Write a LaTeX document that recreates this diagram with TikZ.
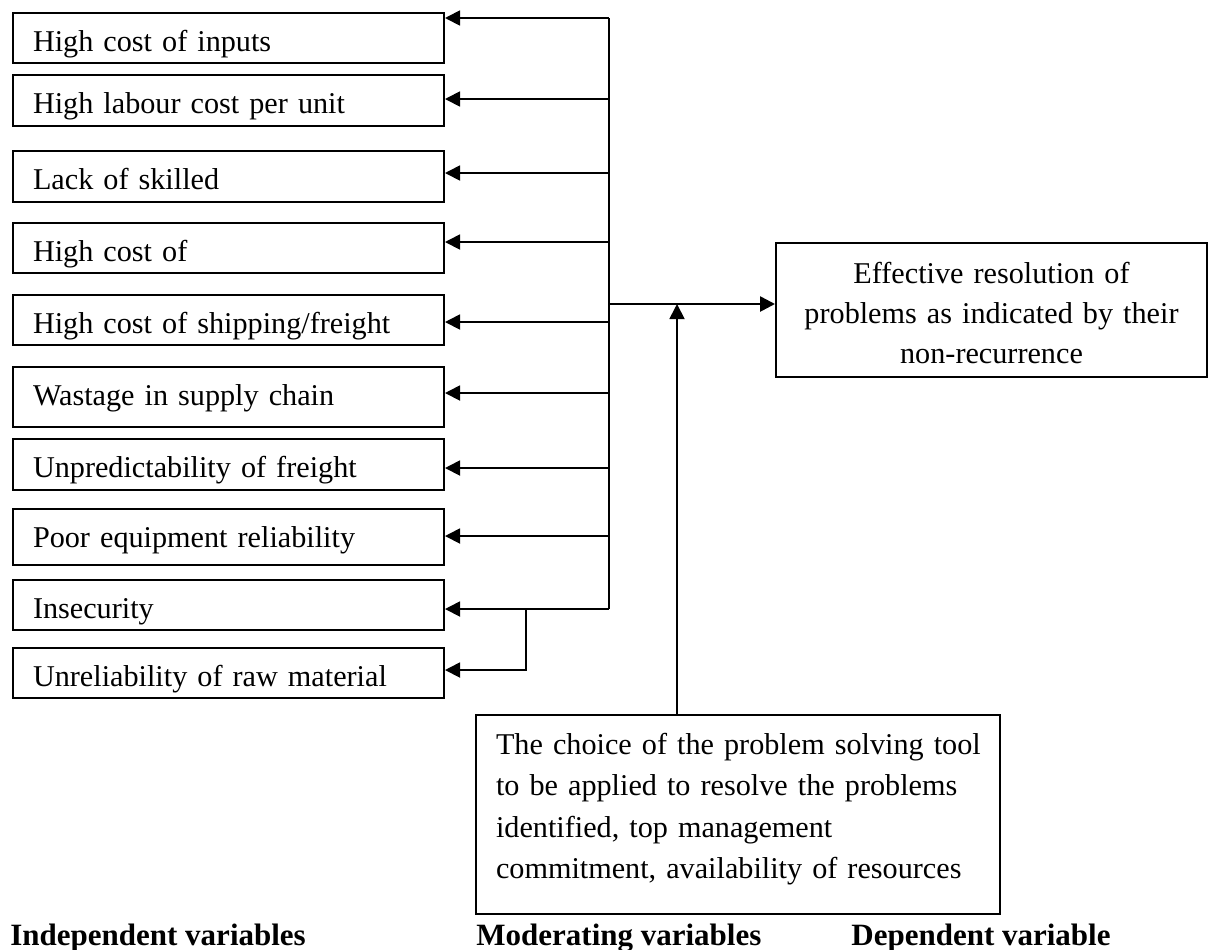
\documentclass[tikz,border=0pt]{standalone}
\usepackage{fontspec}
\setmainfont{Liberation Serif}
\usetikzlibrary{arrows.meta}
\begin{document}
\begin{tikzpicture}[x=0.5pt,y=-0.5pt,
  txt/.style={font=\fontsize{15.1}{20}\selectfont},
  ibox/.style={txt, draw, line width=1pt, anchor=north west, inner xsep=10pt, inner ysep=0pt,
    text width=195.5pt, align=left, text height=19pt},
  arr/.style={line width=0.9pt, -{Triangle[length=7.5pt,width=7.5pt]}},
  spine/.style={line width=1.1pt},
  lbl/.style={font=\fontsize{15.5}{20}\selectfont\bfseries, anchor=base west, inner sep=0pt}]
\useasboundingbox (0,0) rectangle (1213,949);
% independent variable boxes
\node[ibox, text depth=6pt]   (b1)  at (12,12)  {High cost of inputs};
\node[ibox, text depth=6.5pt] (b2)  at (12,74)  {High labour cost per unit};
\node[ibox, text depth=6.5pt] (b3)  at (12,150) {Lack of skilled};
\node[ibox, text depth=6pt]   (b4)  at (12,222) {High cost of};
\node[ibox, text depth=6pt]   (b5)  at (12,294) {High cost of shipping/freight};
\node[ibox, text depth=11pt]  (b6)  at (12,366) {Wastage in supply chain};
\node[ibox, text depth=6.5pt] (b7)  at (12,438) {Unpredictability of freight};
\node[ibox, text depth=9pt]   (b8)  at (12,508) {Poor equipment reliability};
\node[ibox, text depth=6pt]   (b9)  at (12,579) {Insecurity};
\node[ibox, text depth=6pt]   (b10) at (12,647) {Unreliability of raw material};
% dependent variable
\node[txt, draw, line width=1pt, anchor=north west, inner xsep=5pt, inner ysep=0pt,
  text width=205.5pt, align=center, text height=20pt, text depth=47pt] (dep) at (775,242)
  {Effective resolution of\\ problems as indicated by their\\ non-recurrence};
% moderating variables
\node[draw, line width=1pt, anchor=north west, inner xsep=10pt, inner ysep=0pt,
  text width=242pt, align=left, text height=19.5pt, text depth=80pt,
  font=\fontsize{15.1}{20.75}\selectfont] (mod) at (475,714)
  {\mbox{The choice of the problem solving tool}\\ \mbox{to be applied to resolve the problems}\\
   \mbox{identified, top management}\\ \mbox{commitment, availability of resources}};
% spine coordinates
\coordinate (s1) at (609,18);
\coordinate (s2) at (609,99);
\coordinate (s3) at (609,173);
\coordinate (s4) at (609,242);
\coordinate (s5) at (609,322);
\coordinate (s6) at (609,393);
\coordinate (s7) at (609,468);
\coordinate (s8) at (609,536);
\coordinate (s9) at (609,609);
\coordinate (br) at (526,609);
\coordinate (br2) at (526,670);
\coordinate (main) at (609,304);
\coordinate (mtip) at (677,304);
\draw[spine] (s1) -- (s9);
\draw[arr] (s1) -- (s1 -| b1.east);
\draw[arr] (s2) -- (s2 -| b2.east);
\draw[arr] (s3) -- (s3 -| b3.east);
\draw[arr] (s4) -- (s4 -| b4.east);
\draw[arr] (s5) -- (s5 -| b5.east);
\draw[arr] (s6) -- (s6 -| b6.east);
\draw[arr] (s7) -- (s7 -| b7.east);
\draw[arr] (s8) -- (s8 -| b8.east);
\draw[arr] (s9) -- (s9 -| b9.east);
\draw[arr] (br) -- (br2) -- (br2 -| b10.east);
\draw[arr, line width=1.3pt] (main) -- (main -| dep.west);
\draw[arr] (mod.north -| mtip) -- (mtip);
% labels
\node[lbl] (l1) at (10,945) {Independent variables};
\node[lbl] (l2) at (476,945) {Moderating variables};
\node[lbl] (l3) at (851,945) {Dependent variable};
\end{tikzpicture}
\end{document}
